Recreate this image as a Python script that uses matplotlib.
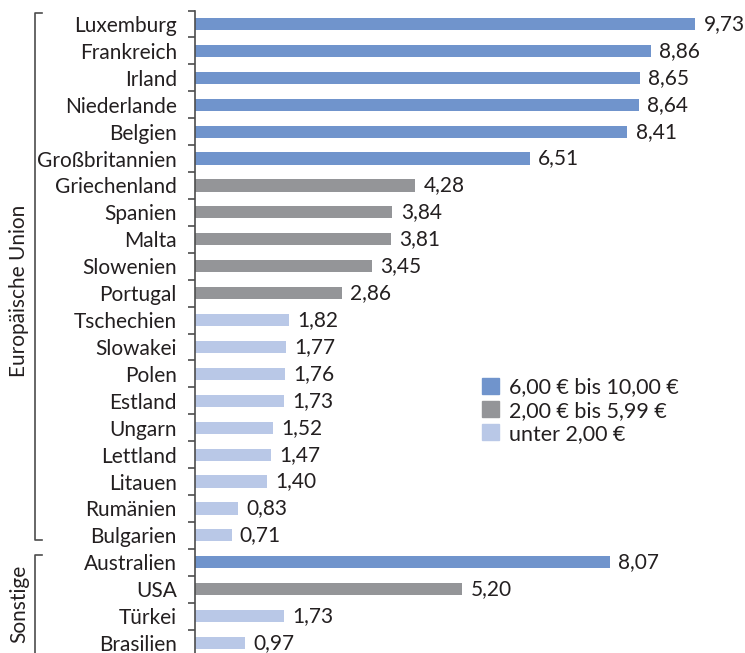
import matplotlib
matplotlib.use('Agg')
import matplotlib.pyplot as plt
from matplotlib.patches import Patch
from matplotlib.transforms import blended_transform_factory

# Daten
laender = ['Luxemburg', 'Frankreich', 'Irland', 'Niederlande', 'Belgien',
           'Großbritannien', 'Griechenland', 'Spanien', 'Malta', 'Slowenien',
           'Portugal', 'Tschechien', 'Slowakei', 'Polen', 'Estland', 'Ungarn',
           'Lettland', 'Litauen', 'Rumänien', 'Bulgarien',
           'Australien', 'USA', 'Türkei', 'Brasilien']
werte = [9.73, 8.86, 8.65, 8.64, 8.41, 6.51, 4.28, 3.84, 3.81, 3.45, 2.86,
         1.82, 1.77, 1.76, 1.73, 1.52, 1.47, 1.40, 0.83, 0.71,
         8.07, 5.20, 1.73, 0.97]
gruppen = ['Europäische Union', 'Sonstige']
n_eu = 20

legende = ['6,00 € bis 10,00 €', '2,00 € bis 5,99 €', 'unter 2,00 €']
farben = ['#7094cc', '#949598', '#b9c8e7']

def farbe(w):
    if w >= 6:
        return farben[0]
    if w >= 2:
        return farben[1]
    return farben[2]

plt.rcParams['font.family'] = ['Lato', 'DejaVu Sans']
textfarbe = '#231f20'
linienfarbe = '#4d4d4d'

fig = plt.figure(figsize=(7.45, 6.53), dpi=100)
ax = fig.add_axes([195 / 745, 1 - 656.5 / 653, 545 / 745, 646 / 653])

y = list(range(len(laender)))
ax.barh(y, werte, height=0.45, color=[farbe(w) for w in werte])
ax.set_ylim(len(laender) - 0.5, -0.5)
ax.set_xlim(0, 10.6)

for i, w in enumerate(werte):
    ax.text(w + 0.16, i, ('%.2f' % w).replace('.', ','), va='center',
            ha='left', fontsize=15, color=textfarbe, clip_on=False)

ax.set_yticks(y)
ax.set_yticklabels(laender, fontsize=15, color=textfarbe)
ax.set_yticks([i - 0.5 for i in range(len(laender) + 1)], minor=True)
ax.tick_params(axis='y', which='major', length=0, pad=13)
ax.tick_params(axis='y', which='minor', length=5, color=linienfarbe, width=1.2)
ax.set_xticks([])
for s in ['top', 'right', 'bottom']:
    ax.spines[s].set_visible(False)
ax.spines['left'].set_color(linienfarbe)
ax.spines['left'].set_linewidth(1.2)

# Klammern für Gruppen
tr = blended_transform_factory(fig.transFigure, ax.transData)
x0, x1 = 35 / 745, 42 / 745
klammern = [(-0.4, n_eu - 0.82), (n_eu - 0.28, len(laender) + 0.5)]
mitten = [9.9, 21.55]
for (oben, unten), mitte, name in zip(klammern, mitten, gruppen):
    ax.plot([x1, x0, x0, x1], [oben, oben, unten, unten], transform=tr,
            color=linienfarbe, lw=1.2, clip_on=False)
    ax.text(19 / 745, mitte, name, transform=tr, rotation=90, ha='center',
            va='center', fontsize=15, color=textfarbe)

handles = [Patch(color=c) for c in farben]
fig.legend(handles, legende, loc='upper left', bbox_to_anchor=(463 / 745, 1 - 358 / 653),
           frameon=False, fontsize=15.5, handlelength=0.75, handleheight=0.75,
           handletextpad=0.5, labelspacing=0.15, labelcolor=textfarbe)

fig.savefig('out.png', dpi=100)
